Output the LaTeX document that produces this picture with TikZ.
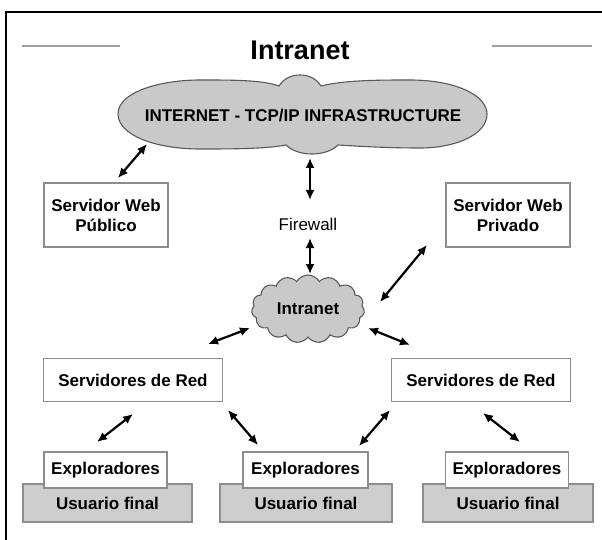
\documentclass[tikz,border=0pt]{standalone}
\usepackage{fontspec}
\setmainfont{Liberation Sans}
\usetikzlibrary{positioning, arrows.meta, shapes.symbols, calc}
\definecolor{cloudgray}{HTML}{C9C9C9}
\definecolor{usergray}{HTML}{CDCDCD}
\definecolor{edgegray}{HTML}{8C8C8C}

\begin{document}
\begin{tikzpicture}[
    x=1pt, y=-1pt,
    lbl/.style={font=\fontsize{17}{20}\selectfont\bfseries},
    box/.style={draw=edgegray, line width=1.4pt, fill=white, rectangle, align=center, inner sep=3pt, lbl},
    userbox/.style={box, fill=usergray, minimum height=38pt},
    explbox/.style={box, minimum width=123pt, minimum height=36pt},
    redbox/.style={box, minimum width=179pt, minimum height=43pt},
    webbox/.style={box, minimum width=124pt, minimum height=64pt},
    cloudline/.style={draw=gray!70!black, fill=cloudgray, line width=1.1pt},
    netcloud/.style={cloud, cloud ignores aspect, cloudline},
    arr/.style={{Latex[length=10pt,width=9pt]}-{Latex[length=10pt,width=9pt]}, line width=2.2pt},
    rule/.style={draw=gray!75, line width=2.5pt}
]
    \useasboundingbox (0,0) rectangle (602,540);
    \draw[line width=1.5pt] (6,540) |- (602,12);

    % heading
    \node[font=\fontsize{27}{30}\selectfont\bfseries] (title) at (300,50) {Intranet};
    \draw[rule] (22,46) -- (120,46);
    \draw[rule] (492,46) -- (592,46);

    % big cloud, three lobes
    \path[cloudline] (118,114) .. controls (118,92) and (160,80) .. (200,80)
        .. controls (235,80) and (262,80) .. (279,86)
        .. controls (284,78) and (292,75) .. (300,75)
        .. controls (308,75) and (316,78) .. (321,86)
        .. controls (345,80) and (380,80) .. (410,80)
        .. controls (455,80) and (487,95) .. (487,114)
        .. controls (487,135) and (455,148) .. (420,148)
        .. controls (385,148) and (355,146) .. (338,145)
        .. controls (332,151) and (322,154) .. (312,154)
        .. controls (300,154) and (291,150) .. (286,145)
        .. controls (265,149) and (230,149) .. (200,149)
        .. controls (155,149) and (118,135) .. (118,114) -- cycle;
    \node[lbl] (inet) at (303,116) {INTERNET - TCP/IP INFRASTRUCTURE};

    \node[netcloud, minimum width=113pt, minimum height=68pt, cloud puffs=15, cloud puff arc=120,
        label={[lbl]center:Intranet}] (intra) at (308,309) {};

    \node[font=\fontsize{17}{20}\selectfont] (fw) at (308,224) {Firewall};

    % servers
    \node[webbox] (pub) at (106,215) {Servidor Web\\Público};
    \node[webbox] (priv) at (508,215) {Servidor Web\\Privado};
    \node[redbox] (redl) at (133,380) {Servidores de Red};
    \node[redbox] (redr) at (481,380) {Servidores de Red};

    % end users
    \node[userbox, minimum width=169pt] (usl) at (107.5,503) {Usuario final};
    \node[userbox, minimum width=172pt] (usm) at (306,503) {Usuario final};
    \node[userbox, minimum width=170pt] (usr) at (508,503) {Usuario final};
    \node[explbox] (expl) at (105.5,470) {Exploradores};
    \node[explbox, minimum width=125pt] (expm) at (305.5,470) {Exploradores};
    \node[explbox] (expr) at (507,470) {Exploradores};

    % links
    \draw[arr] ($(inet)+(-156,28)$) -- ($(pub)+(12,-37)$);
    \draw[arr] ($(inet)+(7,42)$) -- ($(fw)+(2,-24)$);
    \draw[arr] ($(fw)+(2,14)$) -- ($(intra)+(2,-35)$);
    \draw[arr] ($(priv)+(-81,30)$) -- ($(intra)+(72,-7)$);
    \draw[arr] ($(intra)+(-58,19)$) -- ($(redl)+(75,-36)$);
    \draw[arr] ($(intra)+(60,19)$) -- ($(redr)+(-71,-35)$);
    \draw[arr] ($(redl)+(0,34)$) -- ($(expl)+(-8.5,-28)$);
    \draw[arr] ($(redl)+(95,30)$) -- ($(expm)+(-47.5,-25)$);
    \draw[arr] ($(redr)+(-91,30)$) -- ($(expm)+(53.5,-24)$);
    \draw[arr] ($(redr)+(2,33)$) -- ($(expr)+(13,-28)$);
\end{tikzpicture}
\end{document}
